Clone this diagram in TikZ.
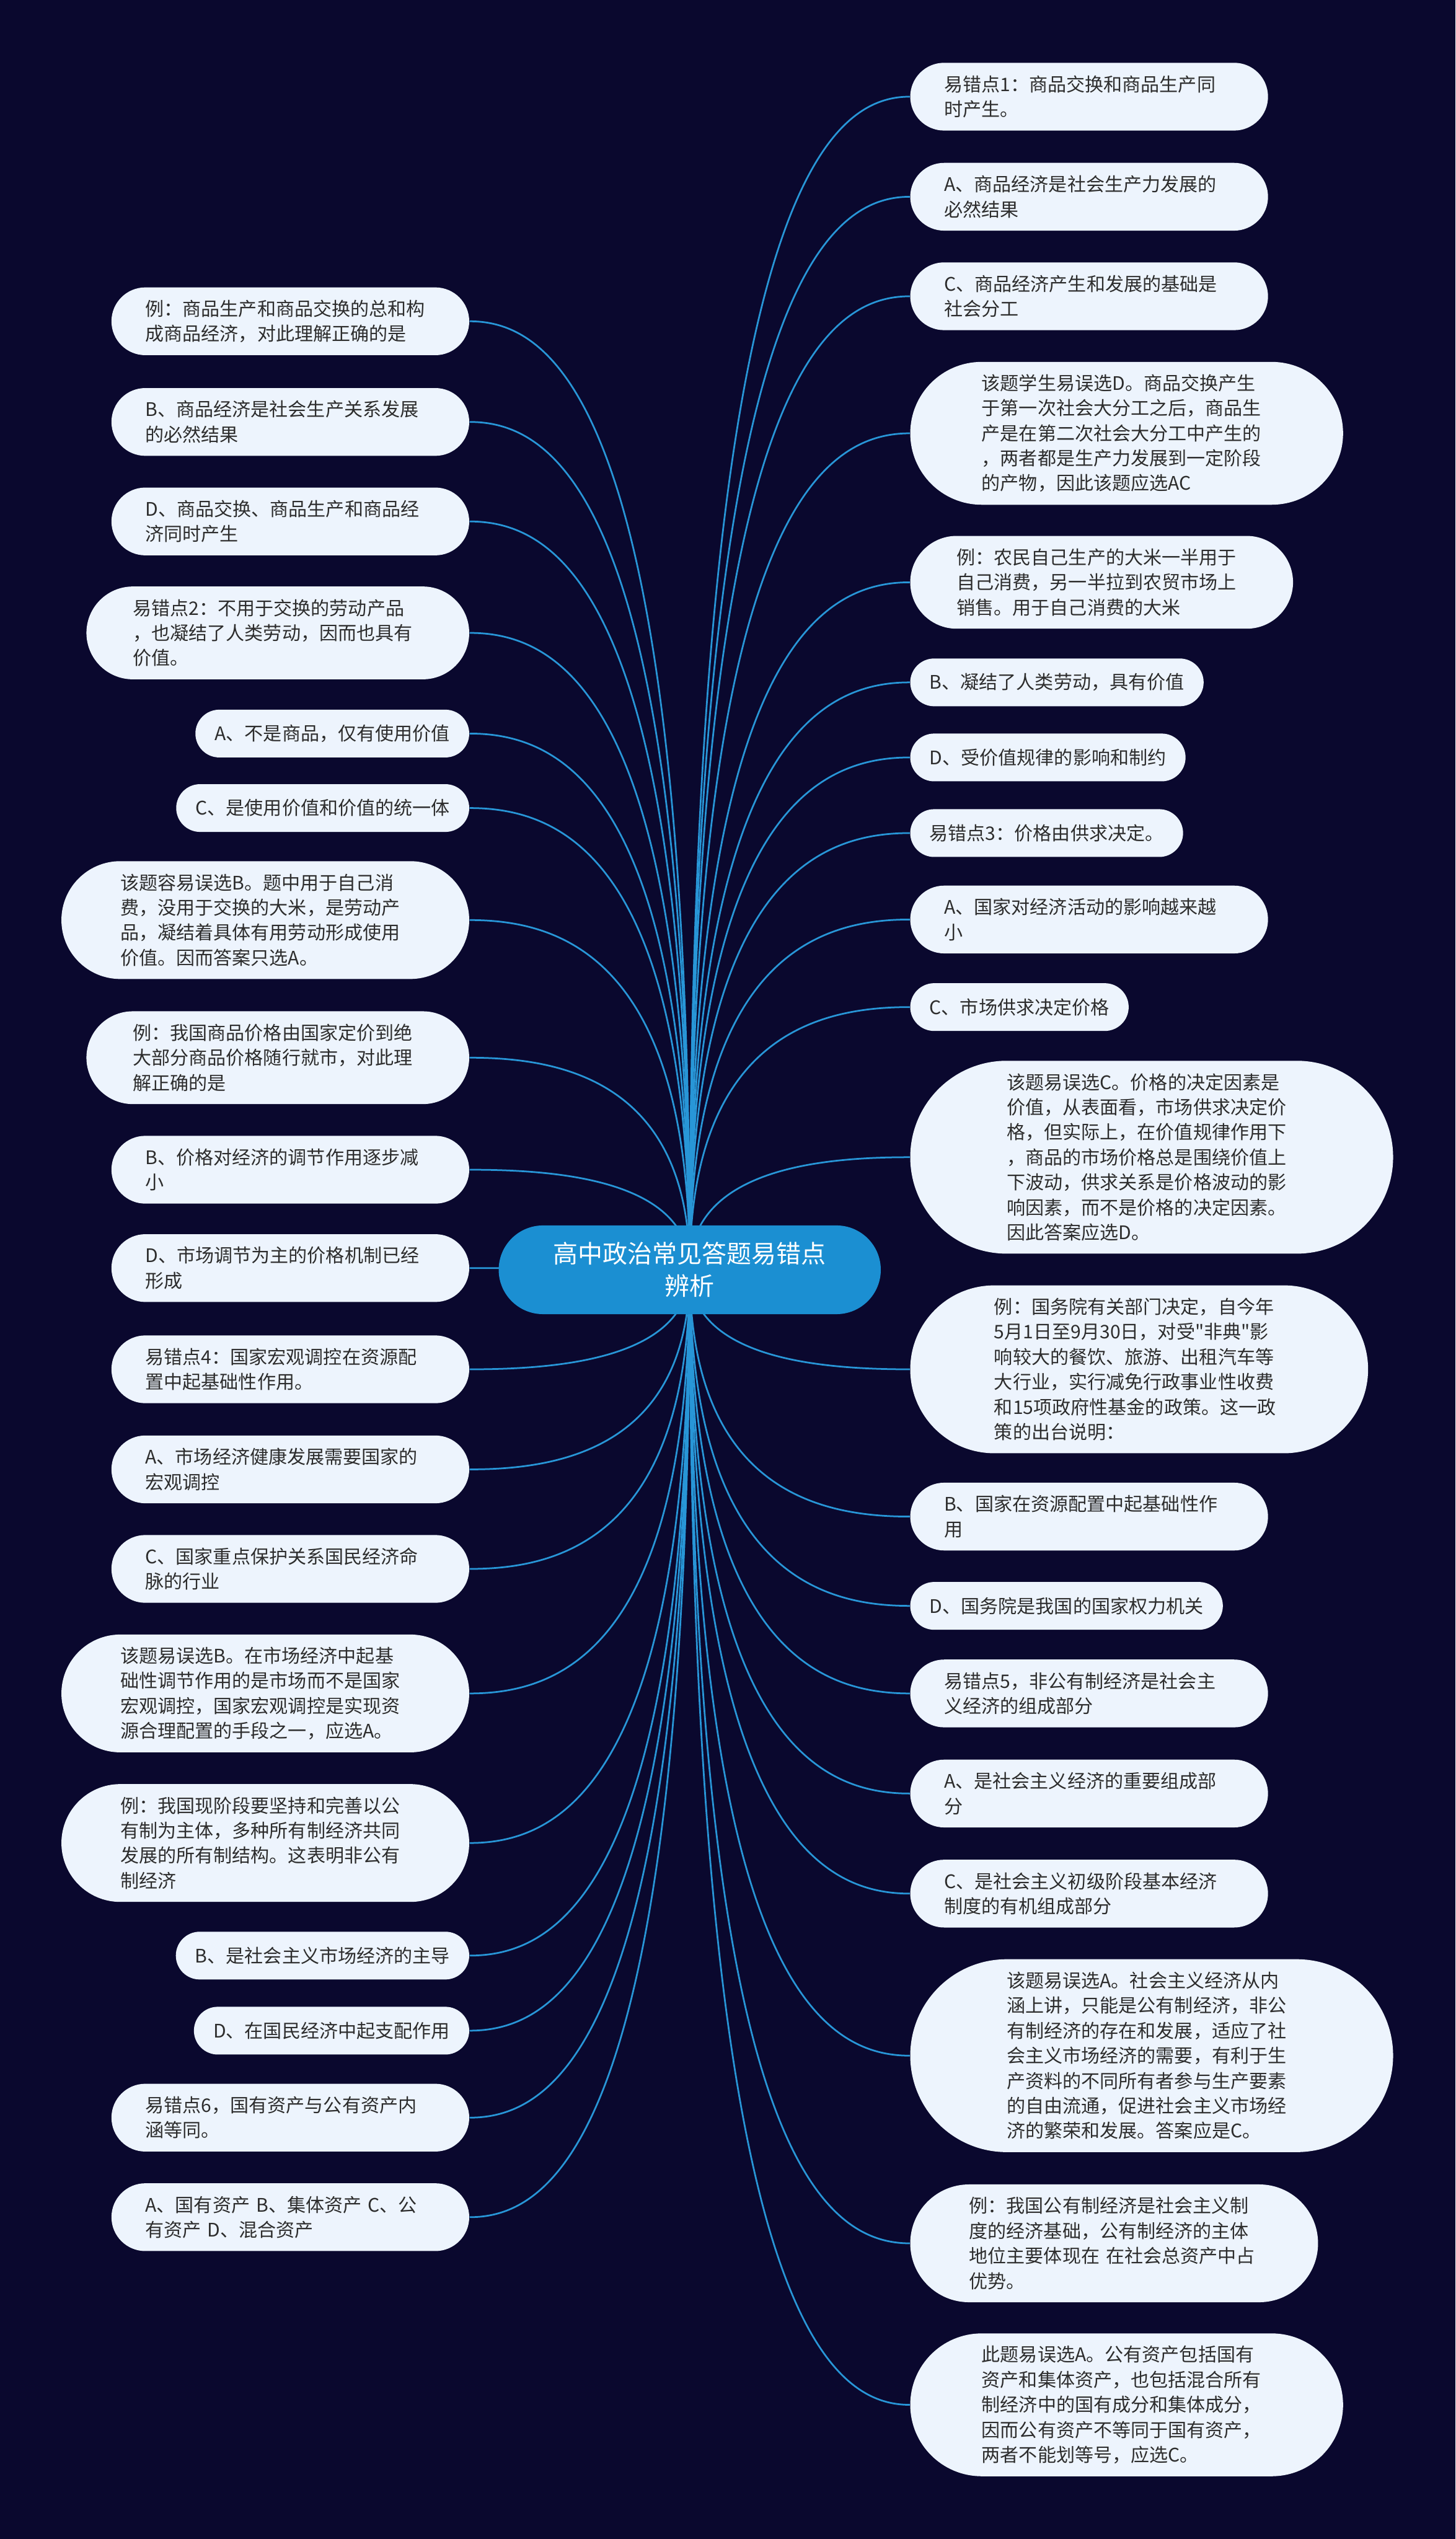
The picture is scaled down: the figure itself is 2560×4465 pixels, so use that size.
\documentclass[tikz,border=0pt]{standalone}
\usepackage{fontspec}
\newfontfamily\cjkfont{Noto Sans CJK SC}
\usetikzlibrary{calc, backgrounds}

\definecolor{bgnavy}{RGB}{10,8,46}
\definecolor{leaffill}{RGB}{237,244,253}
\definecolor{rootblue}{RGB}{27,143,210}
\definecolor{linkblue}{RGB}{40,150,215}
\definecolor{txtgray}{RGB}{45,45,45}

\tikzset{
  root/.style={rectangle, fill=rootblue, text=white,
    font=\cjkfont\fontsize{10.9}{14.3}\selectfont, text width=129pt,
    align=center, inner xsep=19.5pt, inner ysep=3pt,
    rounded corners=19.5pt, minimum height=39pt},
  % #1 = half of the box height, so the ends are round
  leaf/.style={rectangle, fill=leaffill, text=txtgray,
    font=\cjkfont\fontsize{8.2}{11}\selectfont, align=left,
    inner xsep=#1, inner ysep=3pt, rounded corners=#1, minimum height=2*#1},
  leaf/.default=10.5pt,
  single/.style={leaf, inner xsep=8.5pt},
  wrap/.style={text width=127.5pt},
  link/.style={linkblue, line width=0.75pt},
}

\begin{document}
\begin{tikzpicture}[x=0.25pt, y=-0.25pt]
  \useasboundingbox (0,0) rectangle (2560,4465);

  % centre
  \node[root] (root) at (1213,2233) {高中政治常见答题易错点\\辨析};

  % right side
  \node[leaf=14.9pt, wrap, anchor=west] (r1) at (1600,170) {易错点1：商品交换和商品生产同\\时产生。};
  \node[leaf=14.9pt, wrap, anchor=west] (r2) at (1600,346) {A、商品经济是社会生产力发展的\\必然结果};
  \node[leaf=14.9pt, wrap, anchor=west] (r3) at (1600,521) {C、商品经济产生和发展的基础是\\社会分工};
  \node[leaf=31.4pt, wrap, anchor=west] (r4) at (1600,762) {该题学生易误选D。商品交换产生\\于第一次社会大分工之后，商品生\\产是在第二次社会大分工中产生的\\，两者都是生产力发展到一定阶段\\的产物，因此该题应选AC};
  \node[leaf=20.4pt, wrap, anchor=west] (r5) at (1600,1024) {例：农民自己生产的大米一半用于\\自己消费，另一半拉到农贸市场上\\销售。用于自己消费的大米};
  \node[single, anchor=west] (r6) at (1600,1200) {B、凝结了人类劳动，具有价值};
  \node[single, anchor=west] (r7) at (1600,1332) {D、受价值规律的影响和制约};
  \node[single, anchor=west] (r8) at (1600,1465) {易错点3：价格由供求决定。};
  \node[leaf=14.9pt, wrap, anchor=west] (r9) at (1600,1617) {A、国家对经济活动的影响越来越\\小};
  \node[single, anchor=west] (r10) at (1600,1771) {C、市场供求决定价格};
  \node[leaf=42.4pt, wrap, anchor=west] (r11) at (1600,2035) {该题易误选C。价格的决定因素是\\价值，从表面看，市场供求决定价\\格，但实际上，在价值规律作用下\\，商品的市场价格总是围绕价值上\\下波动，供求关系是价格波动的影\\响因素，而不是价格的决定因素。\\因此答案应选D。};
  \node[leaf=36.9pt, wrap, anchor=west] (r12) at (1600,2408) {例：国务院有关部门决定，自今年\\5月1日至9月30日，对受"非典"影\\响较大的餐饮、旅游、出租汽车等\\大行业，实行减免行政事业性收费\\和15项政府性基金的政策。这一政\\策的出台说明：};
  \node[leaf=14.9pt, wrap, anchor=west] (r13) at (1600,2667) {B、国家在资源配置中起基础性作\\用};
  \node[single, anchor=west] (r14) at (1600,2824) {D、国务院是我国的国家权力机关};
  \node[leaf=14.9pt, wrap, anchor=west] (r15) at (1600,2978) {易错点5，非公有制经济是社会主\\义经济的组成部分};
  \node[leaf=14.9pt, wrap, anchor=west] (r16) at (1600,3154) {A、是社会主义经济的重要组成部\\分};
  \node[leaf=14.9pt, wrap, anchor=west] (r17) at (1600,3330) {C、是社会主义初级阶段基本经济\\制度的有机组成部分};
  \node[leaf=42.4pt, wrap, anchor=west] (r18) at (1600,3615) {该题易误选A。社会主义经济从内\\涵上讲，只能是公有制经济，非公\\有制经济的存在和发展，适应了社\\会主义市场经济的需要，有利于生\\产资料的不同所有者参与生产要素\\的自由流通，促进社会主义市场经\\济的繁荣和发展。答案应是C。};
  \node[leaf=25.9pt, wrap, anchor=west] (r19) at (1600,3945) {例：我国公有制经济是社会主义制\\度的经济基础，公有制经济的主体\\地位主要体现在 在社会总资产中占\\优势。};
  \node[leaf=31.4pt, wrap, anchor=west] (r20) at (1600,4229) {此题易误选A。公有资产包括国有\\资产和集体资产，也包括混合所有\\制经济中的国有成分和集体成分，\\因而公有资产不等同于国有资产，\\两者不能划等号，应选C。};

  % left side
  \node[leaf=14.9pt, wrap, anchor=east] (l1) at (826,565) {例：商品生产和商品交换的总和构\\成商品经济，对此理解正确的是};
  \node[leaf=14.9pt, wrap, anchor=east] (l2) at (826,742) {B、商品经济是社会生产关系发展\\的必然结果};
  \node[leaf=14.9pt, wrap, anchor=east] (l3) at (826,917) {D、商品交换、商品生产和商品经\\济同时产生};
  \node[leaf=20.4pt, wrap, anchor=east] (l4) at (826,1113) {易错点2：不用于交换的劳动产品\\，也凝结了人类劳动，因而也具有\\价值。};
  \node[single, anchor=east] (l5) at (826,1290) {A、不是商品，仅有使用价值};
  \node[single, anchor=east] (l6) at (826,1421) {C、是使用价值和价值的统一体};
  \node[leaf=25.9pt, wrap, anchor=east] (l7) at (826,1618) {该题容易误选B。题中用于自己消\\费，没用于交换的大米，是劳动产\\品，凝结着具体有用劳动形成使用\\价值。因而答案只选A。};
  \node[leaf=20.4pt, wrap, anchor=east] (l8) at (826,1860) {例：我国商品价格由国家定价到绝\\大部分商品价格随行就市，对此理\\解正确的是};
  \node[leaf=14.9pt, wrap, anchor=east] (l9) at (826,2057) {B、价格对经济的调节作用逐步减\\小};
  \node[leaf=14.9pt, wrap, anchor=east] (l10) at (826,2230) {D、市场调节为主的价格机制已经\\形成};
  \node[leaf=14.9pt, wrap, anchor=east] (l11) at (826,2408) {易错点4：国家宏观调控在资源配\\置中起基础性作用。};
  \node[leaf=14.9pt, wrap, anchor=east] (l12) at (826,2584) {A、市场经济健康发展需要国家的\\宏观调控};
  \node[leaf=14.9pt, wrap, anchor=east] (l13) at (826,2759) {C、国家重点保护关系国民经济命\\脉的行业};
  \node[leaf=25.9pt, wrap, anchor=east] (l14) at (826,2978) {该题易误选B。在市场经济中起基\\础性调节作用的是市场而不是国家\\宏观调控，国家宏观调控是实现资\\源合理配置的手段之一，应选A。};
  \node[leaf=25.9pt, wrap, anchor=east] (l15) at (826,3241) {例：我国现阶段要坚持和完善以公\\有制为主体，多种所有制经济共同\\发展的所有制结构。这表明非公有\\制经济};
  \node[single, anchor=east] (l16) at (826,3439) {B、是社会主义市场经济的主导};
  \node[single, anchor=east] (l17) at (826,3571) {D、在国民经济中起支配作用};
  \node[leaf=14.9pt, wrap, anchor=east] (l18) at (826,3724) {易错点6，国有资产与公有资产内\\涵等同。};
  \node[leaf=14.9pt, wrap, anchor=east] (l19) at (826,3899) {A、国有资产 B、集体资产 C、公\\有资产 D、混合资产};

  % background and branches
  \begin{scope}[on background layer]
    \fill[bgnavy] (0,0) rectangle (2560,4465);
    \foreach \i in {1,...,20}
      \draw[link] (root.center) .. controls ($(root.center)!0.9!(root.center |- r\i.west)$)
        and ($(r\i.west)!0.4!(root.center |- r\i.west)$) .. (r\i.west);
    \foreach \i in {1,...,19}
      \draw[link] (root.center) .. controls ($(root.center)!0.9!(root.center |- l\i.east)$)
        and ($(l\i.east)!0.4!(root.center |- l\i.east)$) .. (l\i.east);
  \end{scope}
\end{tikzpicture}
\end{document}
